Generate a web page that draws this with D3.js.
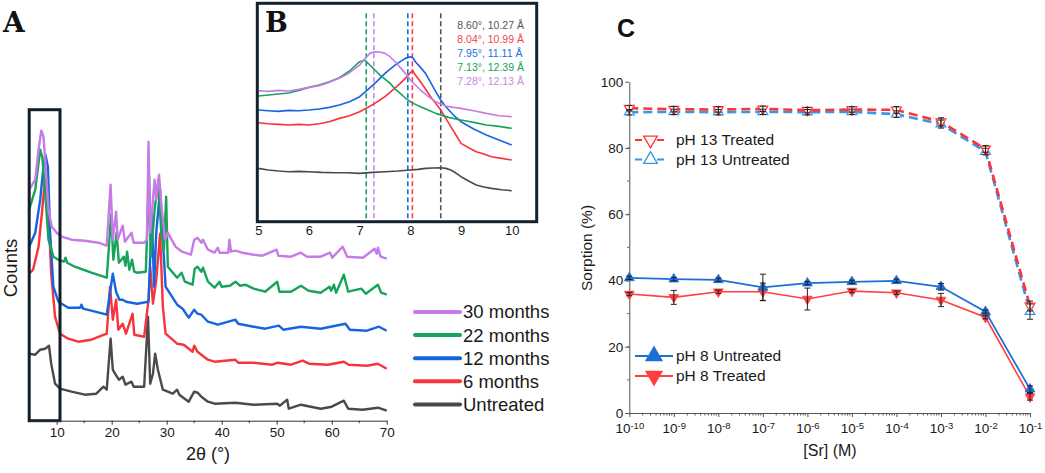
<!DOCTYPE html>
<html>
<head>
<meta charset="utf-8">
<script src="https://cdn.jsdelivr.net/npm/d3@7.9.0/dist/d3.min.js"></script>
<style>
  body { margin: 0; background: #fff; }
  svg { display: block; }
  text { font-family: Arial, "Liberation Sans", sans-serif; fill: #1a1a1a; }
</style>
</head>
<body>
<svg id="fig" width="1045" height="473"></svg>
<script>
// ---------- panel A: XRD patterns (2theta, counts a.u.) ----------
const seriesNames = ["30 months", "22 months", "12 months", "6 months", "Untreated"];
const seriesColors = ["#c77be6", "#16a35a", "#1764e0", "#f7343c", "#4a4a4a"];

const xrd30 = [[5,231],[6.1,241],[6.7,271],[7.2,290],[7.6,284],[8,254],[8.5,211],[9.1,194],[10,188],[10.9,184],[12.7,181],[15.1,180],[17.6,178],[19.1,175],[19.8,236],[20.2,181],[20.8,209],[21.1,181],[22,195],[22.4,179],[23.6,188],[24,178],[25.9,178],[26.4,181],[26.7,279],[27,188],[27.8,241],[28.1,221],[28.6,246],[29.1,211],[29.7,181],[30.2,188],[31.6,174],[32.8,169],[34.4,166],[35,181],[35.6,183],[36.3,178],[36.6,181],[37.5,171],[38.7,168],[39.3,173],[39.6,168],[41.2,168],[41.4,181],[41.7,169],[42.5,170],[43.7,168],[45.8,166],[47.4,165],[50,171],[50.3,165],[52.6,164],[54.4,168],[55.5,164],[58,164],[59.7,168],[60.1,163],[62,174],[62.8,164],[65.7,163],[67.8,172],[68.2,167],[68.4,173],[68.9,164],[70,162]];
const xrd22 = [[5,211],[6.1,231],[7,271],[7.4,263],[7.9,228],[8.5,181],[9.4,164],[10.3,161],[11.3,159],[11.6,163],[11.9,158],[13.3,154],[16.3,148],[19.1,143],[19.9,206],[20.3,161],[20.9,188],[21.3,158],[22.2,164],[22.5,155],[22.8,169],[23.2,151],[23.7,161],[24.1,149],[24.6,148],[26.2,149],[26.8,244],[27.1,164],[27.8,211],[28.5,241],[29,188],[29.5,171],[29.9,224],[30.2,154],[31.9,143],[32.7,148],[33.3,139],[34.7,136],[35.1,152],[35.6,154],[36.3,149],[36.6,153],[37.5,139],[38.7,133],[39.6,139],[40,134],[41.5,135],[42.5,139],[43.3,135],[44.3,136],[45.8,132],[47.9,129],[50.1,139],[50.5,129],[52.6,129],[54.4,135],[55.8,130],[58,128],[59.6,134],[59.9,130],[60.4,136],[60.8,128],[62.2,146],[63,129],[65.4,132],[66.2,127],[68.4,136],[69,128],[70,126]];
const xrd12 = [[5,174],[6.1,188],[7,221],[7.6,254],[7.95,266],[8.4,254],[8.8,188],[9.4,134],[10.3,119],[12.1,113],[14.3,113],[14.5,116],[14.8,112],[17,109],[19.1,106],[20.2,147],[20.8,129],[21.4,121],[22,121],[22.6,119],[24.6,117],[26.7,119],[27.3,208],[27.7,134],[28.1,188],[28.8,231],[29.3,181],[29.8,134],[31.9,116],[32.9,112],[33.4,108],[34,103],[35,111],[35.6,107],[36.3,106],[37.5,99],[39.3,96],[42.5,101],[43,97],[45.8,94],[47.9,92],[50.4,95],[51.2,91],[54.4,94],[58,92],[62.5,97],[63.3,91],[66.4,90],[68.6,94],[70,90]];
const xrd6 = [[5,147],[5.7,151],[6.7,174],[7.3,207],[7.8,237],[8.05,241],[8.4,221],[9,147],[9.7,104],[10.6,87],[12.1,82],[13.9,79],[16.3,81],[19.1,87],[19.7,134],[20.2,101],[20.8,121],[21.2,91],[22,97],[22.6,87],[23.8,107],[24.1,86],[25.9,84],[26.7,121],[27,154],[27.5,117],[28.1,141],[28.8,187],[29.3,114],[29.8,87],[31.9,77],[33.1,76],[34.7,69],[35,75],[35.6,69],[36.3,66],[37.5,61],[38.7,59],[42.5,61],[43,58],[45.8,58],[49.2,56],[50.2,58],[52.6,56],[54.7,60],[55.9,57],[59.3,56],[62.2,59],[63.1,56],[66.4,55],[68.4,57],[70,52]];
const xrdUn = [[5,67],[6.1,66],[7,71],[7.9,72],[8.6,75],[9,57],[9.7,37],[10.6,32],[12.7,29],[15.1,26],[17.2,27],[18.5,34],[19.1,31],[19.8,82],[20.2,51],[20.6,47],[21.3,41],[22,44],[22.5,36],[23.6,39],[24,34],[25.9,34],[26.6,104],[27,37],[27.5,47],[27.9,67],[28.4,51],[29.3,31],[31.1,27],[31.9,31],[32.3,26],[34,19],[35,29],[35.6,28],[36.3,24],[37.5,19],[38.7,17],[42.5,18],[45.8,16],[50.1,17],[50.6,15],[51.9,21],[52.2,12],[54.4,16],[58,12],[60,14],[62.2,20],[63,12],[65.6,11],[68.4,13],[70,10]];
const xrdData = [xrd30, xrd22, xrd12, xrd6, xrdUn];

const xTicksA = [10, 20, 30, 40, 50, 60, 70];
const zoomRange = [5, 10.6];
const zoomTop = 311;

// ---------- panel B: inset 5-10 deg ----------
const insetX = [5, 6, 7, 8, 9, 10];
const ins30 = [[5,393],[5.2,391],[5.4,394],[5.6,392],[5.8,397],[6,403],[6.2,408],[6.4,418],[6.6,430],[6.8,447],[7,470],[7.1,488],[7.2,505],[7.3,510],[7.4,509],[7.5,505],[7.6,495],[7.7,480],[7.8,463],[7.9,445],[8,425],[8.1,410],[8.2,395],[8.35,376],[8.5,360],[8.7,347],[8.85,343],[9,340],[9.25,333],[9.5,325],[9.75,318],[10,315]];
const ins22 = [[5,377],[5.2,380],[5.4,383],[5.6,386],[5.8,394],[6,403],[6.2,410],[6.4,420],[6.6,432],[6.8,452],[7,480],[7.1,485],[7.2,470],[7.3,455],[7.4,440],[7.5,428],[7.6,415],[7.7,398],[7.8,385],[7.9,371],[8,360],[8.1,352],[8.2,345],[8.35,335],[8.5,325],[8.75,313],[9,305],[9.25,298],[9.5,290],[9.75,286],[10,280]];
const ins12 = [[5,335],[5.2,333],[5.4,331],[5.6,334],[5.8,333],[6,335],[6.2,338],[6.4,343],[6.6,350],[6.8,360],[7,375],[7.15,395],[7.3,415],[7.4,430],[7.5,445],[7.6,458],[7.7,470],[7.8,480],[7.9,490],[8,495],[8.05,492],[8.1,480],[8.2,463],[8.3,445],[8.4,418],[8.5,390],[8.6,365],[8.7,345],[8.85,320],[9,300],[9.25,278],[9.5,260],[9.75,245],[10,230]];
const ins6 = [[5,297],[5.2,294],[5.4,292],[5.6,290],[5.8,292],[6,290],[6.2,294],[6.4,300],[6.6,310],[6.8,318],[7,330],[7.15,342],[7.3,355],[7.4,365],[7.5,375],[7.65,395],[7.8,415],[7.9,430],[8,447],[8.05,453],[8.1,440],[8.2,420],[8.3,398],[8.4,375],[8.5,355],[8.6,335],[8.7,310],[8.8,285],[8.9,260],[9,235],[9.15,222],[9.3,210],[9.45,203],[9.6,195],[9.8,190],[10,185]];
const insUn = [[5,160],[5.2,155],[5.4,152],[5.6,150],[5.8,151],[6,150],[6.25,148],[6.5,147],[6.75,147],[7,145],[7.25,148],[7.5,150],[7.75,152],[8,155],[8.15,157],[8.3,160],[8.45,161],[8.6,162],[8.7,160],[8.8,155],[8.9,146],[9,135],[9.15,122],[9.3,110],[9.45,104],[9.6,100],[9.8,96],[10,93]];
const insetData = [ins30, ins22, ins12, ins6, insUn];

// basal reflections, listed as in the inset legend (top to bottom)
const peakAngles = [8.60, 8.04, 7.95, 7.13, 7.28];
const peakLabels = ["8.60°, 10.27 Å", "8.04°, 10.99 Å", "7.95°, 11.11 Å", "7.13°, 12.39 Å", "7.28°, 12.13 Å"];
const peakColors = ["#555555", "#f7434a", "#1a6fe3", "#13a35a", "#c48ae6"];

// ---------- panel C: Sr sorption ----------
const srConc = [1e-10, 1e-9, 1e-8, 1e-7, 1e-6, 1e-5, 1e-4, 1e-3, 1e-2, 1e-1];
const ph13Treated   = [92.0, 91.7, 91.6, 91.8, 91.4, 91.6, 91.5, 87.9, 79.7, 32.3];
const ph13TreatedErr = [0.8, 0.8, 0.8, 0.8, 0.8, 0.8, 1.0, 1.2, 1.0, 1.5];
const ph13Untreated = [90.8, 90.9, 90.8, 90.9, 90.8, 90.9, 90.2, 87.2, 78.9, 30.6];
const ph13UntreatedErr = [0.8, 0.8, 0.8, 0.8, 0.8, 0.8, 1.0, 1.2, 1.0, 2.3];
const ph8Untreated = [40.8, 40.4, 40.2, 37.9, 39.2, 39.6, 39.9, 38.1, 30.6, 7.2];
const ph8UntreatedErr = [0.5, 0.5, 0.5, 4.0, 0.5, 0.5, 0.5, 1.0, 0.5, 1.0];
const ph8Treated = [35.9, 34.9, 36.6, 36.6, 34.4, 36.8, 36.3, 34.1, 28.9, 4.9];
const ph8TreatedErr = [0.5, 2.1, 0.5, 2.6, 3.3, 0.5, 0.5, 2.0, 0.5, 1.0];
const yTicksC = [0, 20, 40, 60, 80, 100];

const svg = d3.select("#fig");
const slabFont = "'DejaVu Serif', 'Liberation Serif', serif";

// ================= Panel A =================
const xA = d3.scaleLinear().domain([5, 70]).range([29.2, 386.7]);
const yA = d3.scaleLinear().domain([0, 330]).range([420.7, 90.7]);
const lineA = d3.line().x(d => xA(d[0])).y(d => yA(d[1]));

const gA = svg.append("g");
// draw bottom pattern first so upper ones sit above
xrdData.slice().reverse().forEach((s, i) => {
  const idx = xrdData.length - 1 - i;
  gA.append("path")
    .datum(s)
    .attr("d", lineA)
    .attr("fill", "none")
    .attr("stroke", seriesColors[idx])
    .attr("stroke-width", 2.4)
    .attr("stroke-linejoin", "round");
});

// zoom box
gA.append("rect")
  .attr("x", xA(zoomRange[0]))
  .attr("y", yA(zoomTop))
  .attr("width", xA(zoomRange[1]) - xA(zoomRange[0]))
  .attr("height", yA(0) - yA(zoomTop))
  .attr("fill", "none")
  .attr("stroke", "#0f1f2c")
  .attr("stroke-width", 3);

const axA = gA.append("g")
  .attr("transform", `translate(0,${yA(0)})`)
  .call(d3.axisBottom(xA).tickValues(xTicksA).tickSize(4).tickSizeOuter(0).tickPadding(3));
axA.select(".domain").attr("stroke", "#333");
axA.selectAll(".tick line").attr("stroke", "#333");
axA.selectAll(".tick text").attr("font-size", "13.5px");
gA.append("g")
  .attr("transform", `translate(0,${yA(0)})`)
  .selectAll("line")
  .data(d3.range(15, 70, 10))
  .join("line")
  .attr("x1", d => xA(d)).attr("x2", d => xA(d))
  .attr("y1", 0).attr("y2", 2.5)
  .attr("stroke", "#333");

gA.append("text")
  .attr("x", 208).attr("y", 460)
  .attr("text-anchor", "middle")
  .attr("font-size", "18px")
  .text("2θ (°)");

gA.append("text")
  .attr("transform", "translate(17,268) rotate(-90)")
  .attr("text-anchor", "middle")
  .attr("font-size", "18.5px")
  .text("Counts");

gA.append("text")
  .attr("x", 3).attr("y", 32)
  .style("font-family", slabFont)
  .attr("font-weight", "bold")
  .attr("font-size", "28px")
  .style("fill", "#111")
  .text("A");

// legend A
const legA = gA.append("g");
seriesNames.forEach((name, i) => {
  const cy = 312 + i * 23.1;
  legA.append("line")
    .attr("x1", 415).attr("x2", 460)
    .attr("y1", cy).attr("y2", cy)
    .attr("stroke", seriesColors[i])
    .attr("stroke-width", 4)
    .attr("stroke-linecap", "round");
  legA.append("text")
    .attr("x", 463).attr("y", cy)
    .attr("dy", "0.35em")
    .attr("font-size", "18.5px")
    .text(name);
});

// ================= Panel B =================
const xB = d3.scaleLinear().domain([5, 10]).range([258.3, 511.7]);
const yB = d3.scaleLinear().domain([0, 660]).range([221.7, 1.7]);
const lineB = d3.line().x(d => xB(d[0])).y(d => yB(d[1]));

const gB = svg.append("g");
gB.append("rect")
  .attr("x", 257.3).attr("y", 3.3)
  .attr("width", 536.7 - 257.3).attr("height", 221.7 - 3.3)
  .attr("fill", "#fff");

// dashed reference lines
peakAngles.forEach((p, i) => {
  gB.append("line")
    .attr("x1", xB(p)).attr("x2", xB(p))
    .attr("y1", yB(625)).attr("y2", yB(0))
    .attr("stroke", peakColors[i])
    .attr("stroke-width", 1.6)
    .attr("stroke-dasharray", "5,3");
});

insetData.slice().reverse().forEach((s, i) => {
  const idx = insetData.length - 1 - i;
  gB.append("path")
    .datum(s)
    .attr("d", lineB)
    .attr("fill", "none")
    .attr("stroke", seriesColors[idx])
    .attr("stroke-width", 1.6)
    .attr("stroke-linejoin", "round");
});

gB.append("rect")
  .attr("x", 257.3).attr("y", 3.3)
  .attr("width", 536.7 - 257.3).attr("height", 221.7 - 3.3)
  .attr("fill", "none")
  .attr("stroke", "#13222e")
  .attr("stroke-width", 3);

const axB = gB.append("g")
  .attr("transform", `translate(0,${yB(0)})`)
  .call(d3.axisBottom(xB).tickValues(insetX).tickFormat(d3.format("d")).tickSize(0).tickPadding(4));
axB.select(".domain").remove();
axB.selectAll(".tick text").attr("font-size", "13px");

peakLabels.forEach((t, i) => {
  gB.append("text")
    .attr("x", 457.3).attr("y", 25 + i * 14.2)
    .attr("dy", "0.35em")
    .attr("font-size", "10.5px")
    .style("fill", peakColors[i])
    .text(t);
});

gB.append("text")
  .attr("x", 265).attr("y", 31.5)
  .style("font-family", slabFont)
  .attr("font-weight", "bold")
  .attr("font-size", "27px")
  .style("fill", "#111")
  .text("B");

// ================= Panel C =================
const xC = d3.scaleLog().domain([1e-10, 1e-1]).range([629.3, 1030]);
const yC = d3.scaleLinear().domain([0, 100]).range([413, 81.7]);
const gC = svg.append("g");

const axisColor = "#555";
const axY = gC.append("g")
  .attr("transform", `translate(${xC(1e-10)},0)`)
  .call(d3.axisLeft(yC).tickValues(yTicksC).tickSize(4).tickSizeOuter(0).tickPadding(2));
axY.select(".domain").attr("stroke", axisColor);
axY.selectAll(".tick line").attr("stroke", axisColor);
axY.selectAll(".tick text").attr("font-size", "13.5px");
gC.append("g")
  .selectAll("line")
  .data(d3.range(10, 100, 10))
  .join("line")
  .attr("x1", xC(1e-10) - 2).attr("x2", xC(1e-10))
  .attr("y1", d => yC(d)).attr("y2", d => yC(d))
  .attr("stroke", axisColor);

const axX = gC.append("g")
  .attr("transform", `translate(0,${yC(0)})`)
  .call(d3.axisBottom(xC).tickValues(srConc).tickSize(4).tickSizeOuter(0).tickPadding(6));
axX.select(".domain").attr("stroke", axisColor);
axX.selectAll(".tick line").attr("stroke", axisColor);
axX.selectAll(".tick text").each(function (d) {
  const t = d3.select(this);
  t.text(null).attr("font-size", "13.5px");
  t.append("tspan").text("10");
  t.append("tspan").attr("dy", "-0.4em").attr("font-size", "9.5px").text(Math.round(Math.log10(d)));
});
const minorC = [];
srConc.slice(0, -1).forEach(dec => { for (let m = 2; m <= 9; m++) minorC.push(dec * m); });
gC.append("g")
  .selectAll("line")
  .data(minorC)
  .join("line")
  .attr("x1", d => xC(d)).attr("x2", d => xC(d))
  .attr("y1", yC(0)).attr("y2", yC(0) + 2.5)
  .attr("stroke", axisColor);

gC.append("text")
  .attr("transform", "translate(592,248) rotate(-90)")
  .attr("text-anchor", "middle")
  .attr("font-size", "15.5px")
  .text("Sorption (%)");
gC.append("text")
  .attr("x", 830).attr("y", 456)
  .attr("text-anchor", "middle")
  .attr("font-size", "16px")
  .text("[Sr] (M)");
gC.append("text")
  .attr("x", 617).attr("y", 37.3)
  .attr("font-weight", "bold")
  .attr("font-size", "25px")
  .style("fill", "#111")
  .text("C");

const series = [
  { vals: ph13Untreated, err: ph13UntreatedErr, color: "#3a96e6", dash: "9,5", width: 2.6, down: false, open: true },
  { vals: ph13Treated,   err: ph13TreatedErr,   color: "#ff3434", dash: "9,5", width: 2.6, down: true,  open: true },
  { vals: ph8Treated,    err: ph8TreatedErr,    color: "#ff4040", dash: null,  width: 1.6, down: true,  open: false },
  { vals: ph8Untreated,  err: ph8UntreatedErr,  color: "#1d6fd8", dash: null,  width: 1.8, down: false, open: false }
];

const lineC = d3.line().x(d => xC(d[0])).y(d => yC(d[1]));
const tri = d3.symbol().type(d3.symbolTriangle);

series.forEach(s => {
  const pts = srConc.map((c, i) => [c, s.vals[i], s.err[i]]);
  gC.append("path")
    .datum(pts)
    .attr("d", lineC)
    .attr("fill", "none")
    .attr("stroke", s.color)
    .attr("stroke-width", s.width)
    .attr("stroke-dasharray", s.dash);
  gC.append("g").selectAll("path")
    .data(pts)
    .join("path")
    .attr("d", tri.size(42)())
    .attr("transform", d => `translate(${xC(d[0])},${yC(d[1])})${s.down ? " rotate(180)" : ""}`)
    .attr("fill", s.open ? "#fff" : s.color)
    .attr("stroke", s.color)
    .attr("stroke-width", s.open ? 1.2 : 0.8);
});

// error bars on top
series.forEach(s => {
  const pts = srConc.map((c, i) => [c, s.vals[i], s.err[i]]);
  const eb = gC.append("g").attr("stroke", "#222").attr("stroke-width", 1);
  pts.forEach(d => {
    const x = xC(d[0]), y0 = yC(d[1] - d[2]), y1 = yC(d[1] + d[2]);
    eb.append("line").attr("x1", x).attr("x2", x).attr("y1", y0).attr("y2", y1);
    eb.append("line").attr("x1", x - 3).attr("x2", x + 3).attr("y1", y0).attr("y2", y0);
    eb.append("line").attr("x1", x - 3).attr("x2", x + 3).attr("y1", y1).attr("y2", y1);
  });
});

// legends C
const legC = [
  { label: "pH 13 Treated",   color: "#ff3434", dash: "7,4", down: true,  open: true,  y: 140, x2: 666, mx: 650.5, size: 80 },
  { label: "pH 13 Untreated", color: "#3a96e6", dash: "7,4", down: false, open: true,  y: 159.5, x2: 666, mx: 650.5, size: 80 },
  { label: "pH 8 Untreated",  color: "#1d6fd8", dash: null,  down: false, open: false, y: 356, x2: 673, mx: 654, size: 110 },
  { label: "pH 8 Treated",    color: "#ff4040", dash: null,  down: true,  open: false, y: 376, x2: 673, mx: 654, size: 110 }
];
legC.forEach(l => {
  gC.append("line")
    .attr("x1", 635).attr("x2", l.x2)
    .attr("y1", l.y).attr("y2", l.y)
    .attr("stroke", l.color)
    .attr("stroke-width", 2.2)
    .attr("stroke-dasharray", l.dash);
  gC.append("path")
    .attr("d", tri.size(l.size)())
    .attr("transform", `translate(${l.mx},${l.y})${l.down ? " rotate(180)" : ""}`)
    .attr("fill", l.open ? "#fff" : l.color)
    .attr("stroke", l.color)
    .attr("stroke-width", 1.3);
  gC.append("text")
    .attr("x", 676).attr("y", l.y)
    .attr("dy", "0.35em")
    .attr("font-size", "15.5px")
    .text(l.label);
});
</script>
</body>
</html>
